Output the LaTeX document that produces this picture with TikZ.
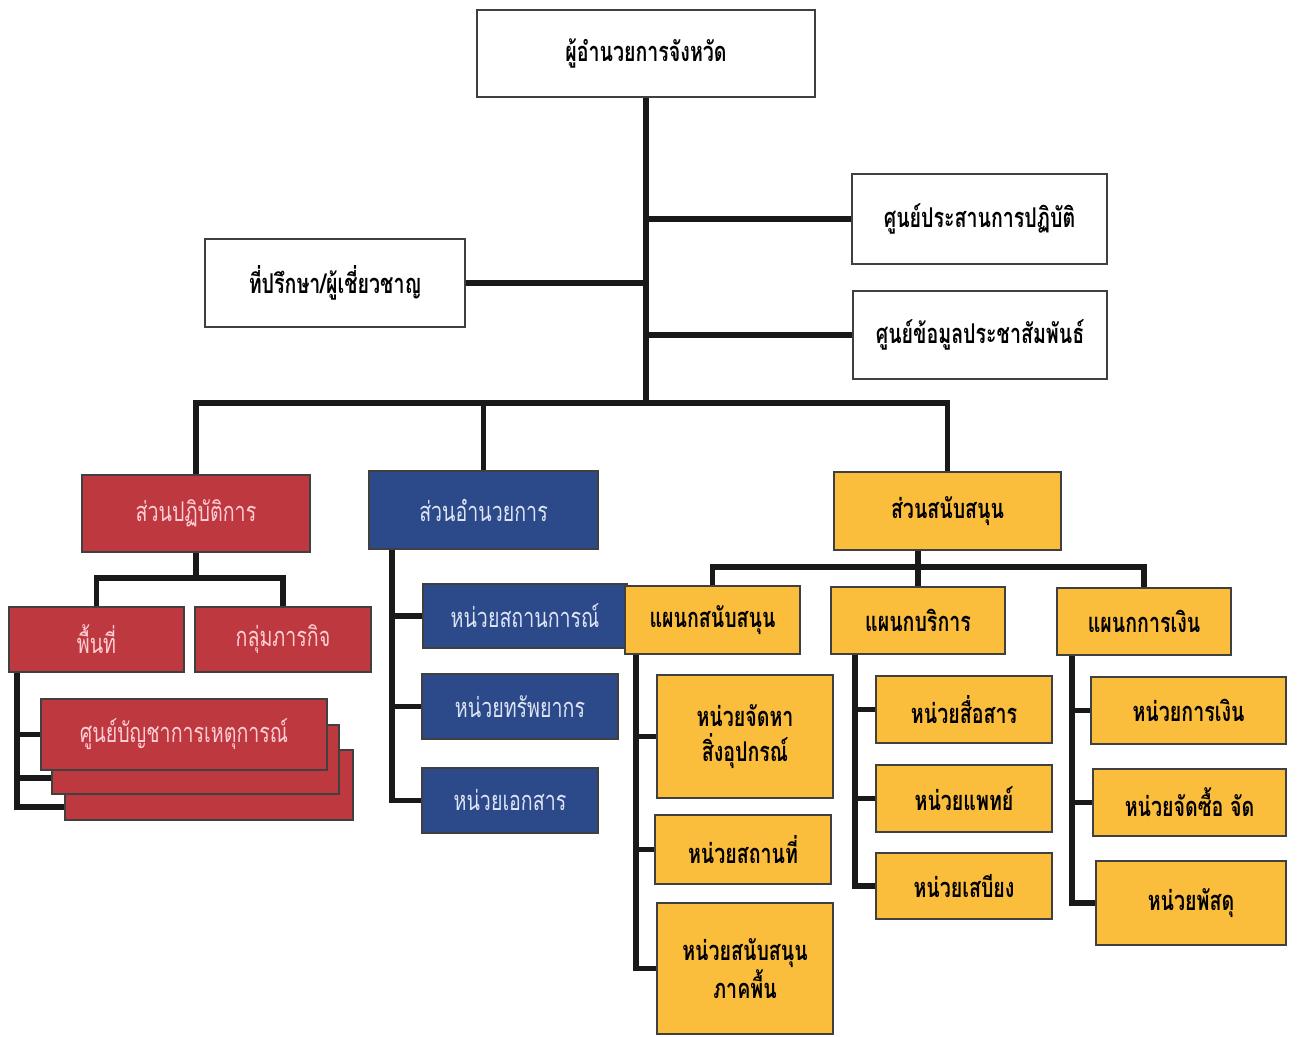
\documentclass[tikz,border=0pt]{standalone}
\usepackage{fontspec}
\usepackage{tikz}
\newfontfamily\thaifont[Script=Thai, FakeStretch=0.72]{Loma}
\newcommand{\boxfont}{\thaifont\fontsize{15.5}{20}\selectfont}
\definecolor{opsred}{RGB}{190,56,64}
\definecolor{opstext}{RGB}{255,205,212}
\definecolor{admblue}{RGB}{44,74,138}
\definecolor{admtext}{RGB}{222,228,245}
\definecolor{supyellow}{RGB}{251,189,60}

\begin{document}
\begin{tikzpicture}[x=0.02cm, y=-0.02cm,
    unit/.style={draw=black!75, line width=0.9pt, inner sep=1pt, align=center, font=\boxfont},
    whitebox/.style={unit, fill=white, font=\boxfont\bfseries},
    redbox/.style={unit, fill=opsred, text=opstext},
    bluebox/.style={unit, fill=admblue, text=admtext},
    yellowbox/.style={unit, fill=supyellow, text=black, font=\boxfont\bfseries},
    link/.style={line width=3.2pt, draw=black!90}
]
    \useasboundingbox (0,0) rectangle (1297,1036);

    % top level
    \node[whitebox, minimum width=6.76cm, minimum height=1.74cm] (chief) at (646,53.5) {ผู้อำนวยการจังหวัด};
    \node[whitebox, minimum width=5.1cm, minimum height=1.8cm] (coord) at (979.5,219) {ศูนย์ประสานการปฏิบัติ};
    \node[whitebox, minimum width=5.2cm, minimum height=1.76cm] (advisor) at (335,283) {ที่ปรึกษา/ผู้เชี่ยวชาญ};
    \node[whitebox, minimum width=5.08cm, minimum height=1.76cm] (pr) at (980,335) {ศูนย์ข้อมูลประชาสัมพันธ์};

    % sections
    \node[redbox, minimum width=4.56cm, minimum height=1.54cm] (ops) at (196,513.5) {ส่วนปฏิบัติการ};
    \node[bluebox, minimum width=4.58cm, minimum height=1.56cm] (adm) at (483.5,510) {ส่วนอำนวยการ};
    \node[yellowbox, minimum width=4.54cm, minimum height=1.56cm] (sup) at (947.5,511) {ส่วนสนับสนุน};

    % operations
    \node[redbox, minimum width=3.5cm, minimum height=1.3cm] (area) at (96.5,639.5) {พื้นที่};
    \node[redbox, minimum width=3.52cm, minimum height=1.3cm] (mission) at (283,639.5) {กลุ่มภารกิจ};
    \node[redbox, minimum width=5.76cm, minimum height=1.4cm] (icc3) at (209,785) {};
    \node[redbox, minimum width=5.74cm, minimum height=1.38cm] (icc2) at (195.5,759.5) {};
    \node[redbox, minimum width=5.72cm, minimum height=1.42cm] (icc1) at (184,734.5) {ศูนย์บัญชาการเหตุการณ์};

    % administration
    \node[bluebox, minimum width=4.08cm, minimum height=1.28cm] (sit) at (525,616) {หน่วยสถานการณ์};
    \node[bluebox, minimum width=3.92cm, minimum height=1.3cm] (res) at (520,706.5) {หน่วยทรัพยากร};
    \node[bluebox, minimum width=3.52cm, minimum height=1.3cm] (docu) at (510,800.5) {หน่วยเอกสาร};

    % support
    \node[yellowbox, minimum width=3.5cm, minimum height=1.36cm] (d1) at (712.5,620) {แผนกสนับสนุน};
    \node[yellowbox, minimum width=3.48cm, minimum height=1.34cm] (d2) at (918,620.5) {แผนกบริการ};
    \node[yellowbox, minimum width=3.48cm, minimum height=1.34cm] (d3) at (1144,621.5) {แผนกการเงิน};

    \node[yellowbox, minimum width=3.52cm, minimum height=2.46cm] (u11) at (745,736.5) {หน่วยจัดหา\\สิ่งอุปกรณ์};
    \node[yellowbox, minimum width=3.52cm, minimum height=1.38cm] (u12) at (743,849.5) {หน่วยสถานที่};
    \node[yellowbox, minimum width=3.52cm, minimum height=2.62cm] (u13) at (745,968.5) {หน่วยสนับสนุน\\ภาคพื้น};

    \node[yellowbox, minimum width=3.52cm, minimum height=1.34cm] (u21) at (964,709.5) {หน่วยสื่อสาร};
    \node[yellowbox, minimum width=3.52cm, minimum height=1.34cm] (u22) at (964,798.5) {หน่วยแพทย์};
    \node[yellowbox, minimum width=3.52cm, minimum height=1.32cm] (u23) at (964,886) {หน่วยเสบียง};

    \node[yellowbox, minimum width=3.9cm, minimum height=1.34cm] (u31) at (1188.5,710.5) {หน่วยการเงิน};
    \node[yellowbox, minimum width=3.86cm, minimum height=1.34cm] (u32) at (1189.5,802.5) {หน่วยจัดซื้อ จัด};
    \node[yellowbox, minimum width=3.8cm, minimum height=1.68cm] (u33) at (1191,903) {หน่วยพัสดุ};

    % connectors
    \coordinate (bus) at (648,403);
    \draw[link] (chief.south) -- (chief.south |- bus);
    \draw[link] (coord.west) -- (coord.west -| chief.south);
    \draw[link] (advisor.east) -- (advisor.east -| chief.south);
    \draw[link] (pr.west) -- (pr.west -| chief.south);
    \draw[link] (ops.north) |- (bus) -| (sup.north);
    \draw[link] (adm.north) -- (adm.north |- bus);

    \coordinate (opsfork) at (196,578);
    \draw[link] (ops.south) -- (opsfork);
    \draw[link] (area.north) |- (opsfork) -| (mission.north);
    \coordinate (rx) at (17,807);
    \coordinate (rmid) at (17,778);
    \draw[link] (area.south -| rx) -- (rx) -- (rx -| icc3.west);
    \draw[link] (rmid) -- (rmid -| icc2.west);
    \draw[link] (rx |- icc1.west) -- (icc1.west);

    \coordinate (bx) at (392,0);
    \draw[link] (adm.south -| bx) |- (docu.west);
    \foreach \u in {sit, res}
        \draw[link] (bx |- \u.west) -- (\u.west);

    \coordinate (supfork) at (918,567);
    \draw[link] (sup.south -| d2.north) -- (d2.north);
    \draw[link] (d1.north) |- (supfork) -| (d3.north);

    \coordinate (ya) at (636,0);
    \coordinate (yb) at (855,0);
    \coordinate (yc) at (1072,0);
    \draw[link] (d1.south -| ya) |- (u13.west);
    \foreach \u in {u11, u12}
        \draw[link] (ya |- \u.west) -- (\u.west);
    \draw[link] (d2.south -| yb) |- (u23.west);
    \foreach \u in {u21, u22}
        \draw[link] (yb |- \u.west) -- (\u.west);
    \draw[link] (d3.south -| yc) |- (u33.west);
    \foreach \u in {u31, u32}
        \draw[link] (yc |- \u.west) -- (\u.west);
\end{tikzpicture}
\end{document}
